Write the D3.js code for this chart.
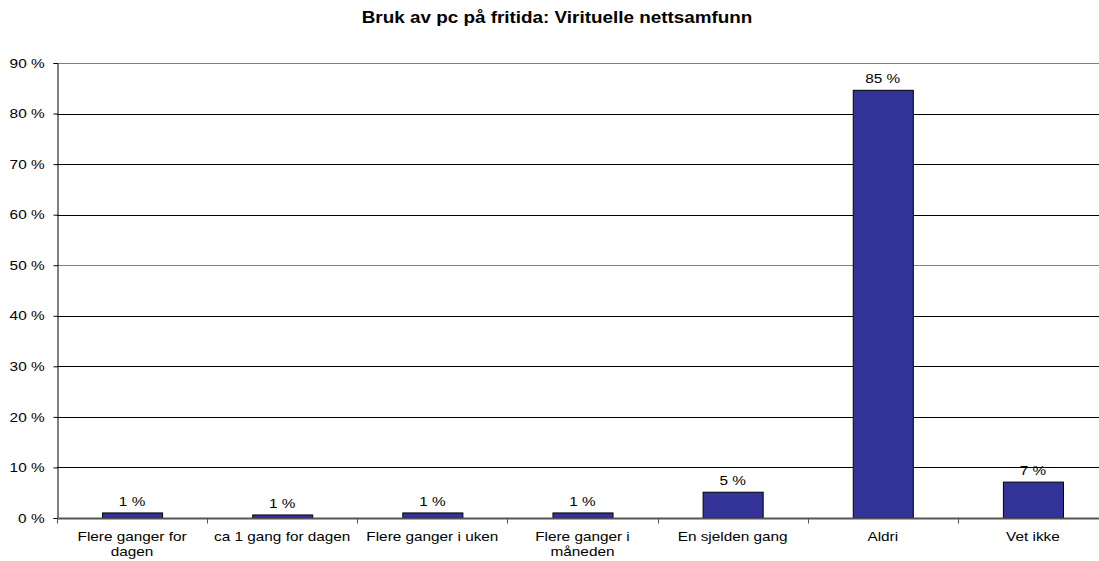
<!DOCTYPE html>
<html>
<head>
<meta charset="utf-8">
<script src="https://cdn.jsdelivr.net/npm/d3@7"></script>
<style>
body { margin: 0; background: #fff; }
text { font-family: "Liberation Sans", Arial, sans-serif; fill: #000; }
</style>
</head>
<body>
<script>
var categories = ["Flere ganger for dagen", "ca 1 gang for dagen", "Flere ganger i uken", "Flere ganger i måneden", "En sjelden gang", "Aldri", "Vet ikke"];
var values = [1.0, 0.6, 1.0, 1.0, 5.1, 84.6, 7.1];
var valueLabels = ["1 %", "1 %", "1 %", "1 %", "5 %", "85 %", "7 %"];
var categoryLines = [["Flere ganger for", "dagen"], ["ca 1 gang for dagen"], ["Flere ganger i uken"], ["Flere ganger i", "måneden"], ["En sjelden gang"], ["Aldri"], ["Vet ikke"]];
var yTicks = [0, 10, 20, 30, 40, 50, 60, 70, 80, 90];
var title = "Bruk av pc på fritida: Virituelle nettsamfunn";

var width = 1099;
var height = 561;
// the original text is a bit stretched sideways
var stretch = "scale(1.18,1)";

var svg = d3.select("body")
    .append("svg")
    .attr("width", width)
    .attr("height", height);

// plot area runs a little past the right edge, as in the original
var x = d3.scaleBand()
    .domain(categories)
    .range([57, 1108])
    .paddingInner(0)
    .paddingOuter(0);

var y = d3.scaleLinear()
    .domain([0, 90])
    .range([518, 63]);

svg.append("text")
    .attr("transform", "translate(557,23) " + stretch)
    .attr("text-anchor", "middle")
    .style("font-weight", "bold")
    .style("font-size", "16px")
    .text(title);

// gridlines
svg.append("g")
    .selectAll("line")
    .data(yTicks.slice(1))
    .enter()
    .append("line")
    .attr("x1", 57)
    .attr("x2", width)
    .attr("y1", function(d) { return Math.round(y(d)) + 0.5; })
    .attr("y2", function(d) { return Math.round(y(d)) + 0.5; })
    .attr("stroke", function(d) { return d == 90 || d == 50 ? "#808080" : "#000"; })
    .attr("stroke-width", 1);

// y axis
var yAxis = svg.append("g")
    .attr("transform", "translate(57.5,0)")
    .call(d3.axisLeft(y).tickValues(yTicks).tickSize(4).tickPadding(7)
        .tickFormat(function(d) { return d + " %"; }));
yAxis.select(".domain").attr("stroke", "#000");
yAxis.selectAll(".tick line").attr("stroke", "#000");
yAxis.selectAll("text")
    .style("font-size", "13px")
    .attr("font-family", null)
    .attr("transform", stretch);

// bars
svg.append("g")
    .selectAll("rect")
    .data(values)
    .enter()
    .append("rect")
    .attr("x", function(d, i) { return x(categories[i]) + x.bandwidth() * 0.3 + 0.5; })
    .attr("width", x.bandwidth() * 0.4)
    .attr("y", function(d) { return y(d); })
    .attr("height", function(d) { return y(0) - y(d); })
    .attr("fill", "#333399")
    .attr("stroke", "#000")
    .attr("stroke-width", 1);

// value labels
svg.append("g")
    .selectAll("text")
    .data(values)
    .enter()
    .append("text")
    .attr("transform", function(d, i) {
        return "translate(" + (x(categories[i]) + x.bandwidth() / 2) + "," + (y(d) - 7) + ") " + stretch;
    })
    .attr("text-anchor", "middle")
    .style("font-size", "13px")
    .text(function(d, i) { return valueLabels[i]; });

// x axis
var xAxis = svg.append("g")
    .attr("transform", "translate(0,518.5)");
xAxis.append("line")
    .attr("x1", 57)
    .attr("x2", width)
    .attr("stroke", "#555")
    .attr("stroke-width", 2);
xAxis.selectAll(".xt")
    .data(categories)
    .enter()
    .append("line")
    .attr("class", "xt")
    .attr("x1", function(d) { return Math.round(x(d)) + 0.5; })
    .attr("x2", function(d) { return Math.round(x(d)) + 0.5; })
    .attr("y1", 0)
    .attr("y2", 5)
    .attr("stroke", "#555");

var labels = xAxis.selectAll(".xl")
    .data(categories)
    .enter()
    .append("text")
    .attr("class", "xl")
    .attr("transform", function(d) { return "translate(" + (x(d) + x.bandwidth() / 2) + ",0) " + stretch; })
    .attr("text-anchor", "middle")
    .style("font-size", "13px");
labels.selectAll("tspan")
    .data(function(d, i) { return categoryLines[i]; })
    .enter()
    .append("tspan")
    .attr("x", 0)
    .attr("y", function(d, j) { return 23 + j * 15; })
    .text(function(d) { return d; });
</script>
</body>
</html>
